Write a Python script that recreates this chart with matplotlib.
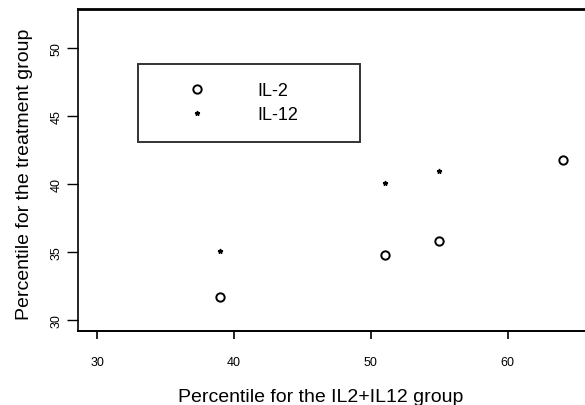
import matplotlib
matplotlib.use("Agg")
import matplotlib.pyplot as plt

plt.rcParams['font.family'] = ['Liberation Sans', 'DejaVu Sans']

# values
x_vals = [39, 51, 55, 64]
il2 = [31.7, 34.8, 35.8, 41.8]
il12 = [35.1, 40.1, 41.0, None]
xticks = [30, 40, 50, 60]
yticks = [30, 35, 40, 45, 50]

fig = plt.figure(figsize=(5.85, 4.06), dpi=100)
ax = fig.add_axes([0.1333, 0.182, 0.8667, 0.793])

ax.plot(x_vals, il2, 'o', mfc='none', mec='black', mew=1.4, ms=6, label='IL-2')
xs = [x for x, y in zip(x_vals, il12) if y is not None]
ys = [y for y in il12 if y is not None]
ax.plot(xs, ys, '*', color='black', ms=3.5, label='IL-12')

ax.set_xlim(28.6, 65.64)
ax.set_ylim(29.19, 52.87)
ax.set_xticks(xticks)
ax.set_yticks(yticks)
ax.tick_params(axis='x', length=6, width=1.2, pad=12, labelsize=9)
ax.tick_params(axis='y', length=8, width=1.0, pad=3, labelsize=9)
for t in ax.get_yticklabels():
    t.set_rotation(90)
    t.set_va('center')

ax.spines['right'].set_visible(False)
ax.spines['top'].set_linewidth(2)
ax.spines['left'].set_linewidth(1.2)
ax.spines['bottom'].set_linewidth(1.4)

ax.set_xlabel('Percentile for the IL2+IL12 group', fontsize=14, labelpad=14, x=0.479)
ax.set_ylabel('Percentile for the treatment group', fontsize=14, labelpad=13, y=0.49)

leg = ax.legend(loc='upper left', bbox_to_anchor=(0.118, 0.575, 0.438, 0.254),
                mode='expand', fontsize=13, frameon=True, fancybox=False,
                borderpad=1.0, labelspacing=0.4, handlelength=4.6,
                handletextpad=1.0, borderaxespad=0)
leg.get_frame().set_edgecolor('black')
leg.get_frame().set_linewidth(1.4)

fig.savefig('out.png', dpi=100)
